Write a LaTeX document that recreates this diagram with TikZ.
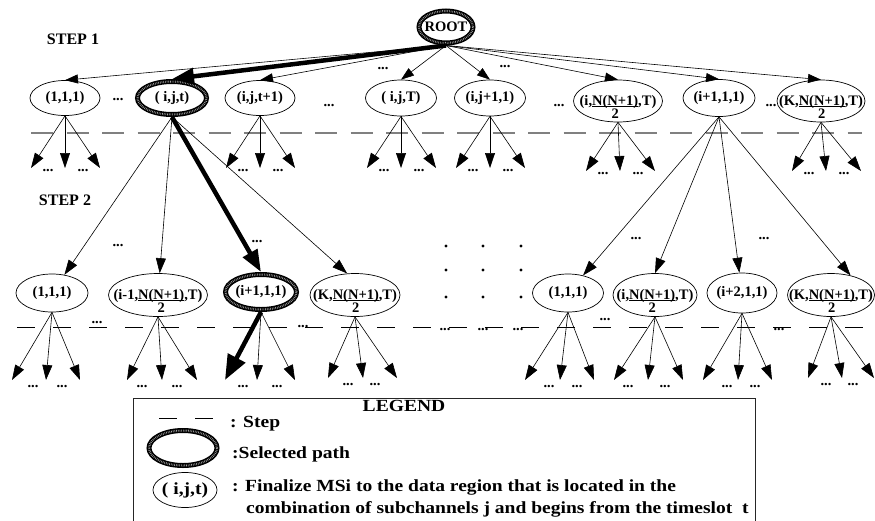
\documentclass[tikz,border=0pt]{standalone}
\usepackage{fontspec}
\setmainfont{Liberation Serif}
\newfontfamily\legendface{Liberation Serif}[FakeStretch=1.15]
\usetikzlibrary{shapes.geometric,arrows.meta}

% fonts
\newcommand\nodefont{\fontsize{14.5}{13}\selectfont\bfseries}
\newcommand\stepfont{\fontsize{16}{18}\selectfont\bfseries}
\newcommand\legfont{\legendface\fontsize{17}{20}\selectfont\bfseries}

% thick underline and the N(N+1)/2 stack
\newcommand\ulbar[1]{\setbox0=\hbox{#1}\rlap{\rule[-2.2pt]{\wd0}{1.5pt}}\box0}
\newcommand\halfN{\begin{tabular}[t]{@{}c@{}}\ulbar{N(N+1)}\\2\end{tabular}}

% ellipse node with a separate centred label
% #1 style, #2 name, #3 centre, #4 width, #5 height, #6 text, #7 label options
\newcommand\treenode[7]{%
  \node[#1,minimum width=#4,minimum height=#5] (#2) at (#3) {};
  \node[lbl,#7] (#2-t) at (#2.center) {#6};}

\begin{document}
\begin{tikzpicture}[x=1pt,y=-1pt,
  ell/.style={ellipse,draw,line width=0.7pt,inner sep=0pt},
  selpath/.style={ellipse,draw,line width=5pt,inner sep=0pt,
    postaction={draw=black!35,line width=2pt,dash pattern=on 0.6pt off 1.1pt}},
  lbl/.style={inner sep=0pt,font=\nodefont},
  dots/.style={inner sep=0pt,font=\nodefont},
  steplbl/.style={inner sep=0pt,font=\stepfont},
  legtxt/.style={inner sep=0pt,font=\legfont},
  link/.style={line width=0.6pt,-{Triangle[length=13pt,width=9pt]}},
  sub/.style={line width=0.6pt,-{Triangle[length=15pt,width=10pt]}},
  chosen/.style={line width=4.5pt,-{Triangle[length=22pt,width=16pt]}},
  ]
\useasboundingbox (0,0) rectangle (875,520);

% ---------- root and first level ----------
\treenode{selpath}{root}{446,27}{54}{32}{ROOT}{}
\node[steplbl] (step1) at (73,39) {STEP 1};

\treenode{ell}{a1}{65,98}{70}{35}{(1,1,1)}{}
\treenode{selpath}{a2}{172,98}{69}{33}{( i,j,t)}{}
\treenode{ell}{a3}{260,98}{70}{35}{(i,j,t+1)}{}
\treenode{ell}{a4}{401,98}{71}{36}{( i,j,T)}{}
\treenode{ell}{a5}{490,98}{71}{36}{(i,j+1,1)}{}
\treenode{ell}{a6}{618,101}{89}{42}{(i,\halfN,T)}{anchor=base,yshift=-4pt}
\treenode{ell}{a7}{719,98}{72}{37}{(i+1,1,1)}{}
\treenode{ell}{a8}{821,101}{88}{42}{(K,\halfN,T)}{anchor=base,yshift=-4pt}

\foreach \n in {a1,a3,a4,a5,a6,a7,a8}
  \draw[link] (root.south) -- (\n.north);
\draw[chosen] (root.south) -- (a2.north);

\node[dots] (d11) at (118,100) {...};
\node[dots] (d12) at (329,106) {...};
\node[dots] (d13) at (559,106) {...};
\node[dots] (d14) at (771,106) {...};
\node[dots] (d15) at (383,69) {...};
\node[dots] (d16) at (505,67) {...};

% first step boundary
\draw[gray,line width=1.2pt,dash pattern=on 22pt off 13.5pt] (31,133) -- (862,133);

% leaves below the first level
\foreach \n/\x/\y in {a1/65/168,a3/260/168,a4/401/168,a5/490/168,a6/620/171,a8/826/171}{
  \coordinate (\n-l) at (\x-34,\y);
  \coordinate (\n-m) at (\x,\y);
  \coordinate (\n-r) at (\x+35,\y);
  \draw[sub] (\n.south) -- (\n-l);
  \draw[sub] (\n.south) -- (\n-m);
  \draw[sub] (\n.south) -- (\n-r);
  \node[dots] (\n-d1) at (\x-17,\y+3) {...};
  \node[dots] (\n-d2) at (\x+18,\y+3) {...};
}

% ---------- second level ----------
\node[steplbl] (step2) at (65,200) {STEP 2};

\treenode{ell}{b1}{52,293}{72}{38}{(1,1,1)}{}
\treenode{ell}{b2}{158,295}{99}{43}{(i-1,\halfN,T)}{anchor=base,yshift=-4pt}
\treenode{selpath}{b3}{261,292}{71}{35}{(i+1,1,1)}{}
\treenode{ell}{b4}{355,295}{90}{43}{(K,\halfN,T)}{anchor=base,yshift=-4pt}
\treenode{ell}{b5}{568,293}{71}{38}{(1,1,1)}{}
\treenode{ell}{b6}{655,295}{84}{43}{(i,\halfN,T)}{anchor=base,yshift=-4pt}
\treenode{ell}{b7}{742,293}{70}{40}{(i+2,1,1)}{}
\treenode{ell}{b8}{831,295}{87}{43}{(K,\halfN,T)}{anchor=base,yshift=-4pt}

\draw[sub] (a2.south) -- (b1);
\draw[sub] (a2.south) -- (b2);
\draw[chosen] (a2.south) -- (b3.north);
\draw[sub] (a2.south) -- (b4.110);
\draw[sub] (a7.south) -- (b5);
\draw[sub] (a7.south) -- (b6.north);
\draw[sub] (a7.south) -- (b7);
\draw[sub] (a7.south) -- (b8.45);

\node[dots] (d21) at (118,246) {...};
\node[dots] (d22) at (257,242) {...};
\node[dots] (d23) at (636,239) {...};
\node[dots] (d24) at (764,239) {...};

% vertical ellipsis grid between the two groups
\foreach \x in {446,483,521}
  \foreach \y in {246,270,297}
    \fill (\x,\y) circle[radius=1.7pt];

% second step boundary
\draw[line width=0.8pt,dash pattern=on 18pt off 18pt] (17,327) -- (868,327);
\foreach \x/\y [count=\k] in {97/323,303/327,445/330,483/330,518/330,605/320,779/330}
  \node[dots] (d3\k) at (\x,\y) {...};

% leaves below the second level
\foreach \n/\l/\m/\r/\dl/\dr/\y in {b1/12/46/80/33/62/380,b2/127/162/197/142/177/380,
    b4/328/363/397/348/375/378,b5/525/560/594/549/577/380,b6/614/648/683/628/665/380,
    b7/703/738/772/727/755/380,b8/808/842/874/826/853/378}{
  \coordinate (\n-l) at (\l,\y);
  \coordinate (\n-m) at (\m,\y);
  \coordinate (\n-r) at (\r,\y);
  \draw[sub] (\n.south) -- (\n-l);
  \draw[sub] (\n.south) -- (\n-m);
  \draw[sub] (\n.south) -- (\n-r);
  \node[dots] (\n-d1) at (\dl,\y+7) {...};
  \node[dots] (\n-d2) at (\dr,\y+7) {...};
}
\coordinate (b3-l) at (225,380);
\coordinate (b3-m) at (257,380);
\coordinate (b3-r) at (295,380);
\draw[chosen,-{Triangle[length=25pt,width=19pt]}] (b3.south) -- (b3-l);
\draw[sub] (b3.south) -- (b3-m);
\draw[sub] (b3.south) -- (b3-r);
\node[dots] (b3-d1) at (243,387) {...};
\node[dots] (b3-d2) at (277,387) {...};

% ---------- legend ----------
\draw[line width=0.9pt,black!85] (133,521) -- (133,398) -- (755,398) -- (755,521);
\node[legtxt,anchor=base] (legtitle) at (404,411) {LEGEND};
\draw[line width=0.9pt,dash pattern=on 18pt off 18pt] (159,418) -- (213,418);
\node[legtxt,anchor=base west] (legstep) at (230,427) {: Step};
\node[selpath,minimum width=68,minimum height=35] (legsel) at (183,448) {};
\node[legtxt,anchor=base west] (legseltxt) at (232,458) {:Selected path};
\node[ell,minimum width=64,minimum height=35] (legnode) at (185,490) {};
\node[legtxt] (legnode-t) at (legnode.center) {( i,j,t)};
\node[legtxt,anchor=base west] (legdef1) at (232,491) {: Finalize MSi to the data region that is located in the};
\node[legtxt,anchor=base west] (legdef2) at (246,513) {combination of subchannels j and begins from the timeslot\ \ t};
\end{tikzpicture}
\end{document}
